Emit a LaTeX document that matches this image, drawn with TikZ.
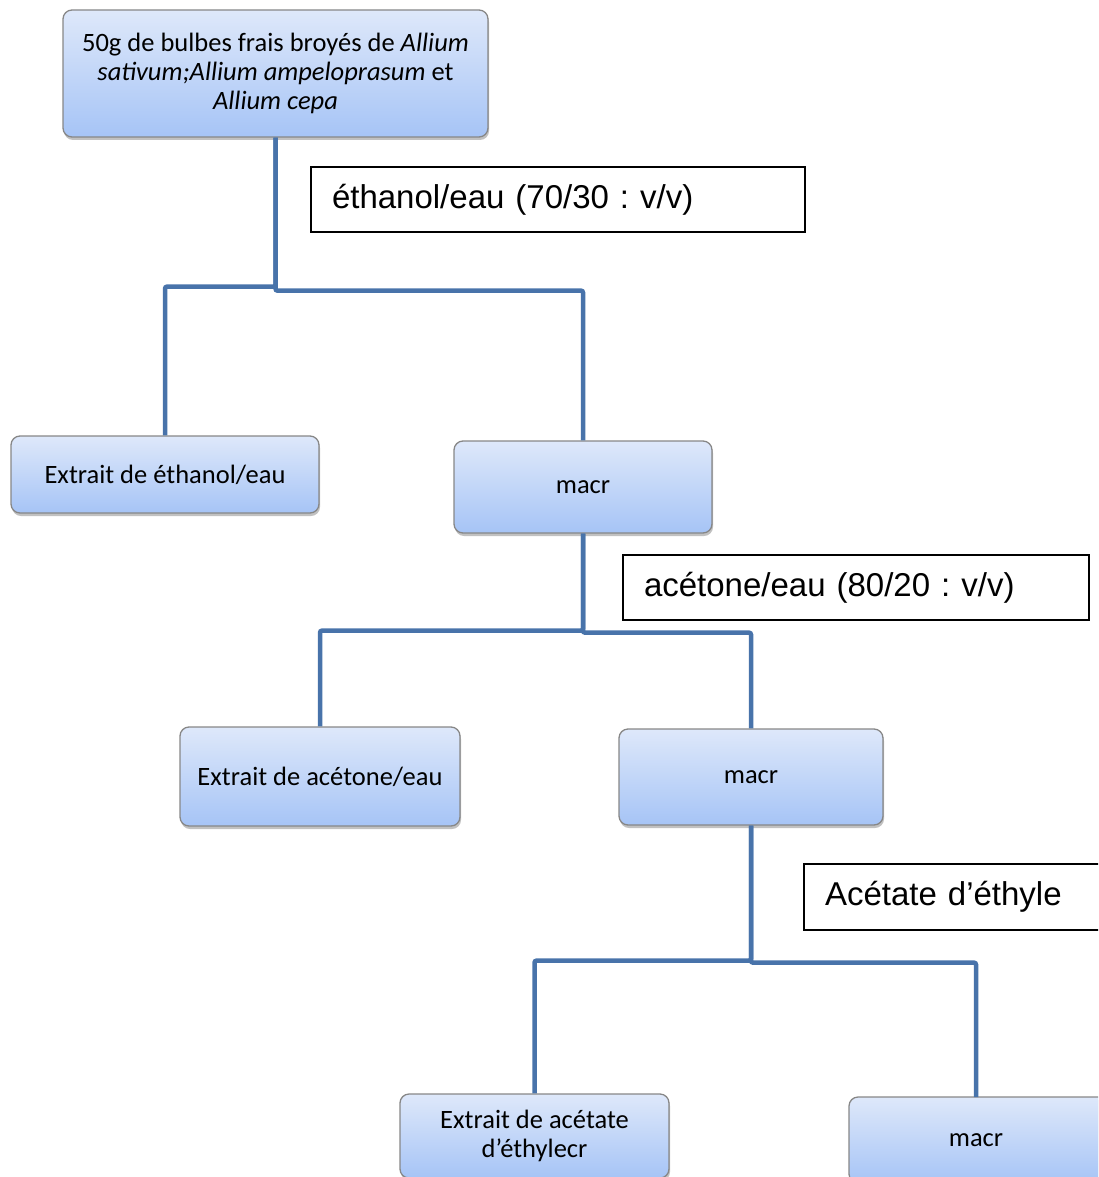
\documentclass[tikz,border=0pt]{standalone}
\usepackage{fontspec}
\setmainfont{Carlito}
\newfontfamily\arialfont{Liberation Sans}
\usetikzlibrary{shadows}
\frenchspacing
\definecolor{linecol}{RGB}{72,115,170}
\definecolor{boxtop}{RGB}{222,232,250}
\definecolor{boxbot}{RGB}{166,196,246}
\definecolor{boxborder}{RGB}{135,135,135}
\tikzset{
  box/.style={draw=boxborder, line width=1.3pt, rounded corners=9pt,
    top color=boxtop, bottom color=boxbot,
    drop shadow={shadow xshift=1pt, shadow yshift=-3pt, opacity=0.35, fill=black!70},
    inner sep=0pt, align=center, font=\fontsize{26.5}{29}\selectfont},
  lbl/.style={draw=black, line width=1.3pt, fill=white, inner ysep=0pt, inner xsep=21pt,
    align=left, font=\arialfont\fontsize{33}{38}\selectfont},
  conn/.style={draw=linecol, line width=4.5pt, rounded corners=2pt}
}
\begin{document}
\begin{tikzpicture}[x=1pt,y=-1pt]
\useasboundingbox (0,0) rectangle (1098,1177);
\clip (0,0) rectangle (1098,1177);
% boxes
\node[box, minimum width=425pt, minimum height=127pt] (top) at (275.5,73.5)
  {50g de bulbes frais broyés de \textit{Allium}\\ \textit{sativum;Allium ampeloprasum} et\\ \textit{Allium cepa}};
\node[box, minimum width=308pt, minimum height=77pt] (ext1) at (165,474.5) {Extrait de éthanol/eau};
\node[box, minimum width=258pt, minimum height=92pt] (macr1) at (583,487) {macr};
\node[box, minimum width=280pt, minimum height=99pt] (ext2) at (320,776.5) {Extrait de acétone/eau};
\node[box, minimum width=264pt, minimum height=96pt] (macr2) at (751,777) {macr};
\node[box, minimum width=269pt, minimum height=84pt] (ext3) at (534.5,1136) {Extrait de acétate\\ d’éthylecr};
\node[box, minimum width=270pt, minimum height=86pt] (macr3) at (984,1140) {\hspace*{-16pt}macr};
% labels
\node[lbl, text width=452pt, minimum height=65pt] (l1) at (558,199.5) {éthanol/eau (70/30 : v/v)};
\node[lbl, text width=424pt, minimum height=65pt] (l2) at (856,587.5) {acétone/eau (80/20 : v/v)};
\node[lbl, text width=280pt, minimum height=66pt] (l3) at (965,897) {Acétate d’éthyle};
% connectors
\draw[conn] (top.south) -- ++(0,149) -| (ext1.north);
\draw[conn] (top.south) -- ++(0,153) -| (macr1.north);
\draw[conn] (macr1.south) -- ++(0,97) -| (ext2.north);
\draw[conn] (macr1.south) -- ++(0,99) -| (macr2.north);
\draw[conn] (macr2.south) -- ++(0,135) -| (ext3.north);
\draw[conn] (macr2.south) -- ++(0,137) -| (976,1097) coordinate (m3top);
\end{tikzpicture}
\end{document}
